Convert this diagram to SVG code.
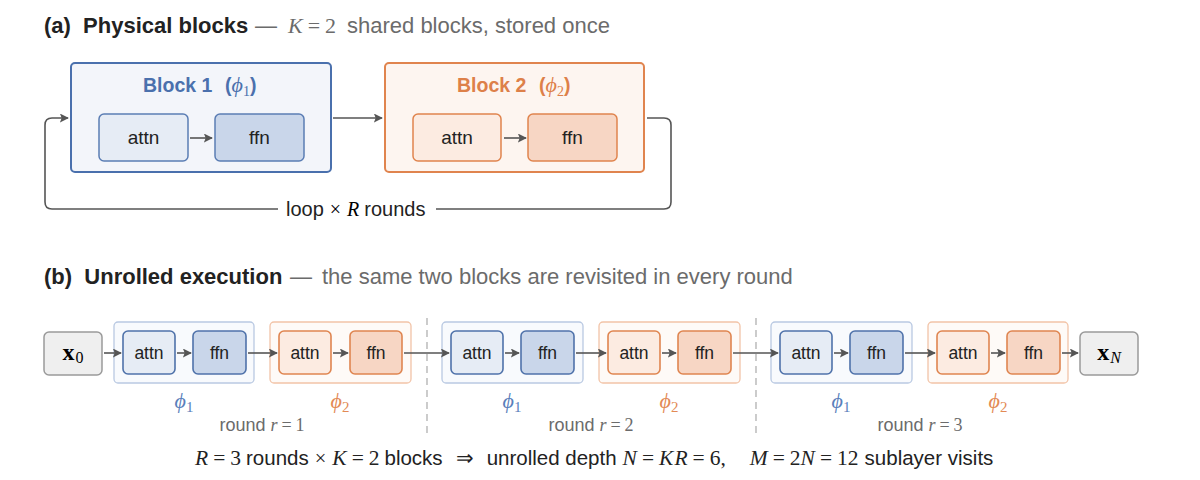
<svg xmlns="http://www.w3.org/2000/svg" width="1200" height="480" viewBox="0 0 1200 480">
<defs>
<marker id="ahb" viewBox="0 0 10 10" refX="9" refY="5" markerWidth="9" markerHeight="9" markerUnits="userSpaceOnUse" orient="auto"><path d="M0,0 L10,5 L0,10 L2,5 z" fill="#555"/></marker>
<style>
.t{font-family:"Liberation Sans",Arial,sans-serif;fill:#222}
.b{font-weight:bold}
.g{fill:#6b6b6b}
.m{font-family:"Liberation Serif","Times New Roman",serif}
.i{font-style:italic}
.blue{fill:#4a70ad}
.org{fill:#dd8049}
.lblue{fill:#5a7fbb}
.lorg{fill:#e38a55}
.con{fill:none;stroke:#555;stroke-width:1.6}
.big1{fill:#f3f5fa;stroke:#4a70ad;stroke-width:2}
.big2{fill:#fdf5f0;stroke:#e0844e;stroke-width:2}
.a1{fill:#e6ecf5;stroke:#5b7db4;stroke-width:1.5}
.f1{fill:#c9d6ea;stroke:#5b7db4;stroke-width:1.5}
.a2{fill:#fcebe1;stroke:#e0844e;stroke-width:1.5}
.f2{fill:#f7d6c4;stroke:#e0844e;stroke-width:1.5}
.g1{fill:#f8fafd;stroke:#b9c9e2;stroke-width:1.3}
.g2{fill:#fefaf7;stroke:#f2c4a8;stroke-width:1.3}
.x{fill:#efefef;stroke:#9a9a9a;stroke-width:1.5}
.sa1{fill:#e6ecf5;stroke:#4f72aa;stroke-width:1.6}
.sf1{fill:#c9d6ea;stroke:#4f72aa;stroke-width:1.6}
.sa2{fill:#fcebe1;stroke:#df8550;stroke-width:1.6}
.sf2{fill:#f7d6c4;stroke:#df8550;stroke-width:1.6}
.div{stroke:#aaa;stroke-width:1.2;stroke-dasharray:7,5}
.n{font-family:"Liberation Sans",Arial,sans-serif;fill:#222;font-size:17.5px;text-anchor:middle}
.na{font-family:"Liberation Sans",Arial,sans-serif;fill:#222;font-size:19px;text-anchor:middle}
</style>
</defs>
<rect width="1200" height="480" fill="#fff"/>

<!-- Panel (a) title -->
<text class="t b" x="44" y="33" font-size="22" xml:space="preserve">(a)  Physical blocks</text>
<text class="t g" x="255" y="33" font-size="22">—</text>
<text x="288" y="33" font-size="22" class="m g"><tspan class="i">K</tspan><tspan dx="5">=</tspan><tspan dx="5">2</tspan></text>
<text class="t g" x="347" y="33" font-size="22">shared blocks, stored once</text>

<!-- Block 1 -->
<g id="block1">
<rect class="big1" x="71" y="63" width="260" height="109" rx="4"/>
<text x="143" y="92" font-size="19.5"><tspan class="t b blue">Block 1</tspan><tspan class="t b blue" x="225">(</tspan><tspan class="m i blue" font-size="22">ϕ</tspan><tspan class="m blue" font-size="14" dy="4">1</tspan><tspan class="t b blue" dy="-4">)</tspan></text>
</g>
<g id="b1attn"><rect class="a1" x="99" y="114" width="89" height="47" rx="5"/><text class="na" x="143.5" y="144">attn</text></g>
<g id="b1ffn"><rect class="f1" x="215" y="114" width="89" height="47" rx="5"/><text class="na" x="259.5" y="144">ffn</text></g>

<!-- Block 2 -->
<g id="block2">
<rect class="big2" x="385" y="63" width="259" height="109" rx="4"/>
<text x="457" y="92" font-size="19.5"><tspan class="t b org">Block 2</tspan><tspan class="t b org" x="539">(</tspan><tspan class="m i org" font-size="22">ϕ</tspan><tspan class="m org" font-size="14" dy="4">2</tspan><tspan class="t b org" dy="-4">)</tspan></text>
</g>
<g id="b2attn"><rect class="a2" x="413" y="114" width="88" height="47" rx="5"/><text class="na" x="457" y="144">attn</text></g>
<g id="b2ffn"><rect class="f2" x="528" y="114" width="89" height="47" rx="5"/><text class="na" x="572.5" y="144">ffn</text></g>

<g id="connectors-a">
<line class="con" x1="190" y1="138" x2="212" y2="138" marker-end="url(#ahb)"/>
<line class="con" x1="504" y1="138" x2="526" y2="138" marker-end="url(#ahb)"/>
<line class="con" x1="333" y1="118" x2="382" y2="118" marker-end="url(#ahb)"/>
<path class="con" d="M647,118 H664 Q671,118 671,125 V202 Q671,209 664,209 H436"/>
<path class="con" d="M278,209 H52 Q45,209 45,202 V125 Q45,118 52,118 H68" marker-end="url(#ahb)"/>
<text x="286" y="216" font-size="20"><tspan class="t">loop</tspan><tspan class="m" dx="6">×</tspan><tspan class="m i" dx="6">R</tspan><tspan class="t" dx="5">rounds</tspan></text>
</g>

<!-- Panel (b) title -->
<text class="t b" x="44" y="284" font-size="22" xml:space="preserve">(b)  Unrolled execution</text>
<text class="t g" x="290" y="284" font-size="22">—</text>
<text class="t g" x="322" y="284" font-size="22">the same two blocks are revisited in every round</text>

<!-- dividers -->
<line class="div" x1="427" y1="318" x2="427" y2="438"/>
<line class="div" x1="756" y1="318" x2="756" y2="438"/>

<!-- x0 -->
<g id="x0"><rect class="x" x="44" y="332" width="58" height="43" rx="5"/><text x="73" y="360" font-size="24" text-anchor="middle" class="m"><tspan font-weight="bold">x</tspan><tspan font-size="16" dy="3" dx="1">0</tspan></text></g>

<!-- Round 1 -->
<g id="r1g1"><rect class="g1" x="114" y="322" width="140" height="61" rx="4"/></g>
<g id="r1attn1"><rect class="sa1" x="123" y="331" width="52" height="43" rx="5"/><text class="n" x="149" y="359">attn</text></g>
<g id="r1ffn1"><rect class="sf1" x="193" y="331" width="53" height="43" rx="5"/><text class="n" x="219.5" y="359">ffn</text></g>
<g id="r1g2"><rect class="g2" x="270" y="322" width="141" height="61" rx="4"/></g>
<g id="r1attn2"><rect class="sa2" x="279" y="331" width="52" height="43" rx="5"/><text class="n" x="305" y="359">attn</text></g>
<g id="r1ffn2"><rect class="sf2" x="350" y="331" width="52" height="43" rx="5"/><text class="n" x="376" y="359">ffn</text></g>
<text x="184" y="408" font-size="22" text-anchor="middle" class="m lblue"><tspan class="i">ϕ</tspan><tspan font-size="15" dy="4">1</tspan></text>
<text x="340" y="408" font-size="22" text-anchor="middle" class="m lorg"><tspan class="i">ϕ</tspan><tspan font-size="15" dy="4">2</tspan></text>
<text x="262" y="431" font-size="18" text-anchor="middle" class="g"><tspan class="t g">round</tspan><tspan class="m i" dx="5">r</tspan><tspan class="m" dx="4">=</tspan><tspan class="m" dx="4">1</tspan></text>

<!-- Round 2 -->
<g id="r2g1"><rect class="g1" x="442" y="322" width="141" height="61" rx="4"/></g>
<g id="r2attn1"><rect class="sa1" x="451" y="331" width="52" height="43" rx="5"/><text class="n" x="477" y="359">attn</text></g>
<g id="r2ffn1"><rect class="sf1" x="521" y="331" width="53" height="43" rx="5"/><text class="n" x="547.5" y="359">ffn</text></g>
<g id="r2g2"><rect class="g2" x="599" y="322" width="141" height="61" rx="4"/></g>
<g id="r2attn2"><rect class="sa2" x="608" y="331" width="52" height="43" rx="5"/><text class="n" x="634" y="359">attn</text></g>
<g id="r2ffn2"><rect class="sf2" x="678" y="331" width="53" height="43" rx="5"/><text class="n" x="704.5" y="359">ffn</text></g>
<text x="512" y="408" font-size="22" text-anchor="middle" class="m lblue"><tspan class="i">ϕ</tspan><tspan font-size="15" dy="4">1</tspan></text>
<text x="669" y="408" font-size="22" text-anchor="middle" class="m lorg"><tspan class="i">ϕ</tspan><tspan font-size="15" dy="4">2</tspan></text>
<text x="591" y="431" font-size="18" text-anchor="middle" class="g"><tspan class="t g">round</tspan><tspan class="m i" dx="5">r</tspan><tspan class="m" dx="4">=</tspan><tspan class="m" dx="4">2</tspan></text>

<!-- Round 3 -->
<g id="r3g1"><rect class="g1" x="771" y="322" width="141" height="61" rx="4"/></g>
<g id="r3attn1"><rect class="sa1" x="780" y="331" width="52" height="43" rx="5"/><text class="n" x="806" y="359">attn</text></g>
<g id="r3ffn1"><rect class="sf1" x="850" y="331" width="53" height="43" rx="5"/><text class="n" x="876.5" y="359">ffn</text></g>
<g id="r3g2"><rect class="g2" x="928" y="322" width="140" height="61" rx="4"/></g>
<g id="r3attn2"><rect class="sa2" x="937" y="331" width="52" height="43" rx="5"/><text class="n" x="963" y="359">attn</text></g>
<g id="r3ffn2"><rect class="sf2" x="1007" y="331" width="53" height="43" rx="5"/><text class="n" x="1033.5" y="359">ffn</text></g>
<text x="841" y="408" font-size="22" text-anchor="middle" class="m lblue"><tspan class="i">ϕ</tspan><tspan font-size="15" dy="4">1</tspan></text>
<text x="998" y="408" font-size="22" text-anchor="middle" class="m lorg"><tspan class="i">ϕ</tspan><tspan font-size="15" dy="4">2</tspan></text>
<text x="920" y="431" font-size="18" text-anchor="middle" class="g"><tspan class="t g">round</tspan><tspan class="m i" dx="5">r</tspan><tspan class="m" dx="4">=</tspan><tspan class="m" dx="4">3</tspan></text>

<!-- xN -->
<g id="xN"><rect class="x" x="1080" y="332" width="58" height="43" rx="5"/><text x="1109" y="360" font-size="24" text-anchor="middle" class="m"><tspan font-weight="bold">x</tspan><tspan font-size="16" dy="3" dx="1" class="i">N</tspan></text></g>

<g id="connectors-b">
<line class="con" x1="104" y1="353" x2="121" y2="353" marker-end="url(#ahb)"/>
<line class="con" x1="177" y1="353" x2="191" y2="353" marker-end="url(#ahb)"/>
<line class="con" x1="248" y1="353" x2="277" y2="353" marker-end="url(#ahb)"/>
<line class="con" x1="333" y1="353" x2="348" y2="353" marker-end="url(#ahb)"/>
<line class="con" x1="404" y1="353" x2="449" y2="353" marker-end="url(#ahb)"/>
<line class="con" x1="505" y1="353" x2="519" y2="353" marker-end="url(#ahb)"/>
<line class="con" x1="576" y1="353" x2="606" y2="353" marker-end="url(#ahb)"/>
<line class="con" x1="662" y1="353" x2="676" y2="353" marker-end="url(#ahb)"/>
<line class="con" x1="733" y1="353" x2="778" y2="353" marker-end="url(#ahb)"/>
<line class="con" x1="834" y1="353" x2="848" y2="353" marker-end="url(#ahb)"/>
<line class="con" x1="905" y1="353" x2="935" y2="353" marker-end="url(#ahb)"/>
<line class="con" x1="991" y1="353" x2="1005" y2="353" marker-end="url(#ahb)"/>
<line class="con" x1="1062" y1="353" x2="1078" y2="353" marker-end="url(#ahb)"/>
</g>

<!-- formula -->
<text x="195" y="465" font-size="20.5" fill="#222"><tspan class="m i" font-size="21.5">R</tspan><tspan class="m" font-size="21.5" dx="5">=</tspan><tspan class="m" font-size="21.5" dx="5">3</tspan><tspan class="t" dx="5">rounds</tspan><tspan class="m" dx="6">×</tspan><tspan class="m i" font-size="21.5" dx="6">K</tspan><tspan class="m" font-size="21.5" dx="5">=</tspan><tspan class="m" font-size="21.5" dx="5">2</tspan><tspan class="t" dx="5">blocks</tspan><tspan class="m" dx="13">⇒</tspan><tspan class="t" dx="13">unrolled depth</tspan><tspan class="m i" font-size="21.5" dx="6">N</tspan><tspan class="m" font-size="21.5" dx="5">=</tspan><tspan class="m i" font-size="21.5" dx="5">K</tspan><tspan class="m i" font-size="21.5" dx="1">R</tspan><tspan class="m" font-size="21.5" dx="5">=</tspan><tspan class="m" font-size="21.5" dx="5">6,</tspan><tspan class="m i" font-size="21.5" dx="24">M</tspan><tspan class="m" font-size="21.5" dx="5">=</tspan><tspan class="m" font-size="21.5" dx="5">2</tspan><tspan class="m i" font-size="21.5">N</tspan><tspan class="m" font-size="21.5" dx="5">=</tspan><tspan class="m" font-size="21.5" dx="5">12</tspan><tspan class="t" dx="6">sublayer visits</tspan></text>
</svg>
